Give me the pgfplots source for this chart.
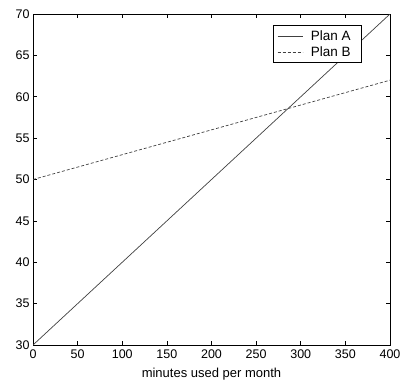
\documentclass[border=0pt]{standalone}
\usepackage{pgfplots}
\pgfplotsset{compat=1.18}
\usepackage{fontspec}
\setmainfont{Liberation Sans}
\begin{document}
\begin{tikzpicture}
\begin{axis}[
  name=ax,
  scale only axis,
  width=357pt, height=331pt,
  xmin=0, xmax=400, ymin=30, ymax=70,
  xtick={0,50,...,400}, ytick={30,35,...,70},
  tick align=inside,
  major tick length=4pt,
  tick style={black, line width=0.6pt},
  axis line style={line width=0.8pt},
  xlabel={minutes used per month},
  xlabel style={font=\fontsize{13}{15}\selectfont, yshift=-3pt},
  ticklabel style={font=\fontsize{12.5}{14}\selectfont},
  /pgf/number format/assume math mode=true,
  xticklabel style={yshift=-1pt},
  legend style={at={(0.9216,0.967)}, anchor=north east, draw=black, line width=0.6pt,
    font=\fontsize{13.5}{15}\selectfont, inner xsep=4pt, inner ysep=3pt, row sep=1pt,
    /tikz/every odd column/.append style={column sep=6pt}},
  legend cell align=left,
  legend image code/.code={\draw[#1] (0pt,0pt) -- (25pt,0pt);},
]
\addplot[color=black!75, line width=0.7pt] coordinates {(0,30) (400,70)};
\addlegendentry{Plan A\rule{5pt}{0pt}}
\addplot[color=black!75, line width=0.7pt, dash pattern=on 3pt off 2pt] coordinates {(0,50) (400,62)};
\addlegendentry{Plan B\rule{5pt}{0pt}}
\end{axis}
\pgfresetboundingbox
\path ([shift={(-33pt,-36pt)}]ax.south west) rectangle ([shift={(11pt,14pt)}]ax.north east);
\end{tikzpicture}
\end{document}
